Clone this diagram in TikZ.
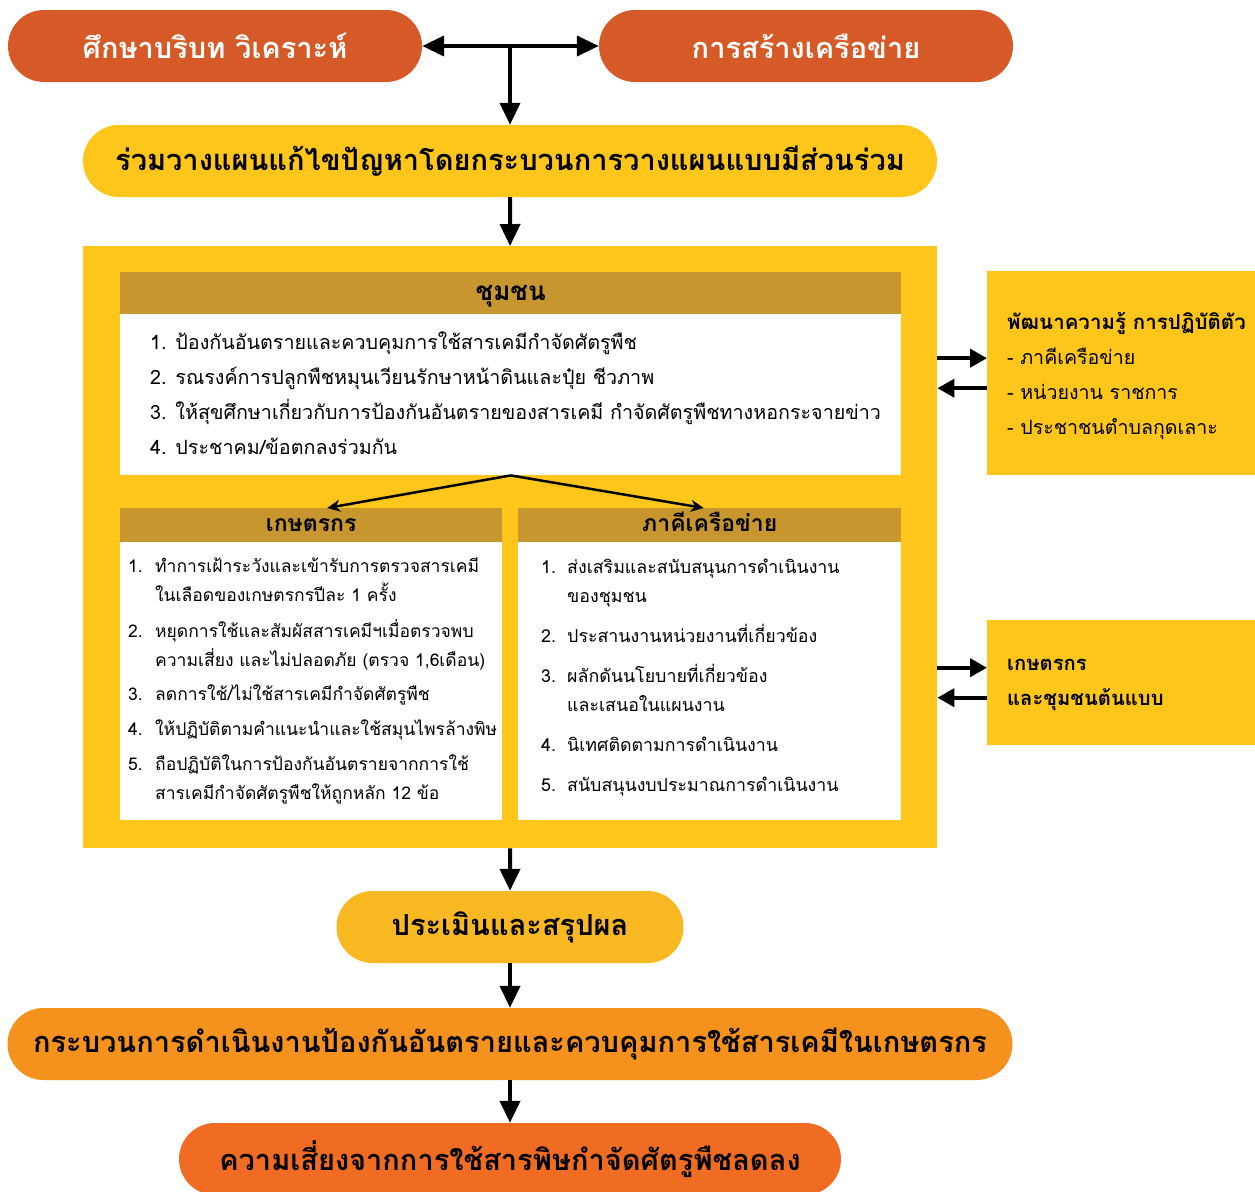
\documentclass[tikz,border=0pt]{standalone}
\usepackage{fontspec}
\setmainfont{Loma}[Script=Thai]
\usetikzlibrary{positioning, arrows.meta}

\definecolor{pillred}{RGB}{214,90,39}
\definecolor{boxyellow}{RGB}{254,198,26}
\definecolor{hdrgold}{RGB}{200,150,46}
\definecolor{evalyellow}{RGB}{248,184,34}
\definecolor{procorange}{RGB}{245,146,30}
\definecolor{riskorange}{RGB}{240,108,34}

\begin{document}
\begin{tikzpicture}[
        x=1pt, y=-1pt,
        % ----- styles -----
        pill/.style={rounded corners=36pt, minimum height=72pt, inner sep=0pt,
            font=\bfseries\fontsize{29}{32}\selectfont},
        hdr/.style={fill=hdrgold, inner sep=0pt, anchor=north west, text height=18pt, text depth=4pt,
            font=\bfseries\fontsize{26}{28}\selectfont},
        panel/.style={fill=white, inner sep=0pt, anchor=north west},
        sidebox/.style={fill=boxyellow, inner sep=0pt, anchor=north west, minimum width=268pt},
        item/.style={anchor=west, inner sep=0pt, text height=18pt, text depth=6pt,
            font=\fontsize{17.5}{22}\selectfont},
        flow/.style={-{Triangle[length=22pt,width=20pt]}, line width=4pt},
        sideflow/.style={-{Triangle[length=17pt,width=18pt]}, line width=4pt},
        split/.style={-{Stealth[length=13pt,width=12pt]}, line width=2.5pt}
    ]
    \clip (0,0) rectangle (1255,1191);
    \useasboundingbox (0,0) rectangle (1255,1191);

    % ----- top row -----
    \node[pill, fill=pillred, text=white, minimum width=414pt] (study) at (215,46) {ศึกษาบริบท วิเคราะห์};
    \node[pill, fill=pillred, text=white, minimum width=414pt] (network) at (806,46) {การสร้างเครือข่าย};
    \coordinate (fork) at (510,46);
    \node[pill, fill=boxyellow, minimum width=854pt] (plan) at (510,161) {ร่วมวางแผนแก้ไขปัญหาโดยกระบวนการวางแผนแบบมีส่วนร่วม};

    % ----- main frame -----
    \node[fill=boxyellow, inner sep=0pt, anchor=north west, minimum width=854pt, minimum height=602pt] (frame) at (83,246) {};
    \node[hdr, minimum width=781pt, minimum height=42pt] (commhdr) at (120,272) {ชุมชน};
    \node[panel, minimum width=781pt, minimum height=161pt] (commbody) at (120,314) {};
    \node[hdr, minimum width=382pt, minimum height=34pt, text height=16pt, font=\bfseries\fontsize{23}{26}\selectfont] (farmhdr) at (120,508) {เกษตรกร};
    \node[panel, minimum width=382pt, minimum height=278pt] (farmbody) at (120,542) {};
    \node[hdr, minimum width=383pt, minimum height=34pt, text height=16pt, font=\bfseries\fontsize{23}{26}\selectfont] (parthdr) at (518,508) {ภาคีเครือข่าย};
    \node[panel, minimum width=383pt, minimum height=278pt] (partbody) at (518,542) {};

    \foreach \t [count=\i] in {%
        1. ป้องกันอันตรายและควบคุมการใช้สารเคมีกำจัดศัตรูพืช,
        2. รณรงค์การปลูกพืชหมุนเวียนรักษาหน้าดินและปุ๋ย ชีวภาพ,
        3. ให้สุขศึกษาเกี่ยวกับการป้องกันอันตรายของสารเคมี กำจัดศัตรูพืชทางหอกระจายข่าว,
        4. ประชาคม/ข้อตกลงร่วมกัน}
        \node[item, font=\fontsize{19.7}{22}\selectfont] (comm\i) at (150,308+35*\i) {\t};

    % farmers
    \foreach \y/\n [count=\i] in {566/1., 631/2., 694/3., 729/4., 764/5.}
        \node[item] (farmno\i) at (128,\y) {\n};
    \foreach \y/\t [count=\i] in {%
        566/{ทำการเฝ้าระวังและเข้ารับการตรวจสารเคมี},
        595/{ในเลือดของเกษตรกรปีละ 1 ครั้ง},
        631/{หยุดการใช้และสัมผัสสารเคมีฯเมื่อตรวจพบ},
        660/{ความเสี่ยง และไม่ปลอดภัย (ตรวจ 1,6เดือน)},
        694/{ลดการใช้/ไม่ใช้สารเคมีกำจัดศัตรูพืช},
        729/{ให้ปฏิบัติตามคำแนะนำและใช้สมุนไพรล้างพิษ},
        764/{ถือปฏิบัติในการป้องกันอันตรายจากการใช้},
        793/{สารเคมีกำจัดศัตรูพืชให้ถูกหลัก 12 ข้อ}}
        \node[item] (farm\i) at (155,\y) {\t};

    % partners
    \foreach \y/\n [count=\i] in {567/1., 636/2., 676/3., 745/4., 785/5.}
        \node[item, font=\fontsize{17.8}{22}\selectfont] (partno\i) at (541,\y) {\n};
    \foreach \y/\t [count=\i] in {%
        567/{ส่งเสริมและสนับสนุนการดำเนินงาน},
        596/{ของชุมชน},
        636/{ประสานงานหน่วยงานที่เกี่ยวข้อง},
        676/{ผลักดันนโยบายที่เกี่ยวข้อง},
        705/{และเสนอในแผนงาน},
        745/{นิเทศติดตามการดำเนินงาน},
        785/{สนับสนุนงบประมาณการดำเนินงาน}}
        \node[item, font=\fontsize{17.8}{22}\selectfont] (part\i) at (567,\y) {\t};

    % ----- side boxes -----
    \node[sidebox, minimum height=204pt] (know) at (987,271) {};
    \node[item, font=\bfseries\fontsize{20.5}{24}\selectfont] (know1) at (1007,323) {พัฒนาความรู้ การปฏิบัติตัว};
    \foreach \y/\t [count=\i from 2] in {358/{- ภาคีเครือข่าย}, 393/{- หน่วยงาน ราชการ}, 428/{- ประชาชนตำบลกุดเลาะ}}
        \node[item, font=\fontsize{19.6}{22}\selectfont] (know\i) at (1007,\y) {\t};

    \node[sidebox, minimum height=125pt] (model) at (987,620) {};
    \node[item, font=\bfseries\fontsize{20.2}{24}\selectfont] (model1) at (1007,664) {เกษตรกร};
    \node[item, font=\bfseries\fontsize{20.2}{24}\selectfont] (model2) at (1007,699) {และชุมชนต้นแบบ};

    % ----- bottom row -----
    \node[pill, fill=evalyellow, minimum width=347pt] (eval) at (510,927) {ประเมินและสรุปผล};
    \node[pill, fill=procorange, minimum width=1005pt] (proc) at (510,1044) {กระบวนการดำเนินงานป้องกันอันตรายและควบคุมการใช้สารเคมีในเกษตรกร};
    \node[pill, fill=riskorange, minimum width=662pt] (risk) at (510,1159) {ความเสี่ยงจากการใช้สารพิษกำจัดศัตรูพืชลดลง};

    % ----- arrows -----
    \draw[{Triangle[length=22pt,width=20pt]}-{Triangle[length=22pt,width=20pt]}, line width=4pt] (study) -- (network);
    \draw[flow] (fork) -- (plan);
    \draw[flow] (plan) -- (frame);
    \draw[split] (commbody.south) -- ([xshift=16pt]farmhdr.north);
    \draw[split] (commbody.south) -- ([xshift=-6pt]parthdr.north);
    \draw[sideflow] ([yshift=15pt]frame.east |- know.west) -- ([yshift=15pt]know.west);
    \draw[sideflow] ([yshift=-15pt]know.west) -- ([yshift=-15pt]frame.east |- know.west);
    \draw[sideflow] ([yshift=15pt]frame.east |- model.west) -- ([yshift=15pt]model.west);
    \draw[sideflow] ([yshift=-15pt]model.west) -- ([yshift=-15pt]frame.east |- model.west);
    \draw[flow] (frame) -- (eval);
    \draw[flow] (eval) -- (proc);
    \draw[flow] (proc) -- (risk);
\end{tikzpicture}
\end{document}
